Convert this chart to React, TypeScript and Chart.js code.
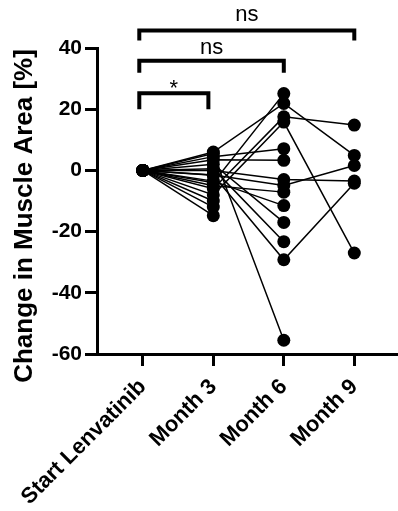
import React, { useEffect, useRef } from 'react';
import { Chart, registerables } from 'chart.js';

Chart.register(...registerables);

const timepointLabels = ['Start Lenvatinib', 'Month 3', 'Month 6', 'Month 9'];

// one entry per patient (null = no measurement at that time point)
const startValues = [0, 0, 0, 0, 0, 0, 0, 0, 0, 0, 0, 0, 0, 0, 0, 0, 0];
const month3Values = [5.5, 6, -4, -6, -8, 4.5, 3.5, 0, -1.5, -5, -3.5, 2, 0.5, -1.6, -10, -12, -14.8];
const month6Values = [-55.5, 21.9, 25.1, 17.5, 15.8, 7.1, 3.3, -3.0, -4.9, -7.1, -11.5, -17.0, -23.3, -29.2, null, null, null];
const month9Values = [null, 4.9, null, 14.8, -27, null, null, -3.5, 1.6, null, null, null, null, -4.2, null, null, null];

const yTickValues = [-60, -40, -20, 0, 20, 40];
const yAxisTitle = 'Change in Muscle Area [%]';

const comparisonFrom = [0, 0, 0];
const comparisonTo = [3, 2, 1];
const comparisonLabels = ['ns', 'ns', '*'];

const FONT = "'Liberation Sans', Arial, Helvetica, sans-serif";

const bracketPlugin = {
  id: 'brackets',
  afterDraw(chart: any) {
    const ctx = chart.ctx;
    const xs = chart.scales.x;
    const ys = chart.scales.y;
    const levels = [45.7, 35.8, 25.2];
    const drops = [10, 12, 16];
    const textGap = [10, 7, -2];
    ctx.save();
    ctx.strokeStyle = '#000';
    ctx.fillStyle = '#000';
    ctx.lineWidth = 4;
    ctx.lineCap = 'butt';
    ctx.lineJoin = 'miter';
    for (let i = 0; i < comparisonLabels.length; i++) {
      const x1 = xs.getPixelForValue(comparisonFrom[i] - 0.05);
      const x2 = xs.getPixelForValue(comparisonTo[i] - (comparisonTo[i] === 1 ? 0.07 : 0));
      const y = ys.getPixelForValue(levels[i]);
      ctx.beginPath();
      ctx.moveTo(x1, y + drops[i]);
      ctx.lineTo(x1, y);
      ctx.lineTo(x2, y);
      ctx.lineTo(x2, y + drops[i]);
      ctx.stroke();
      ctx.font = `22px ${FONT}`;
      ctx.textAlign = 'center';
      ctx.textBaseline = 'alphabetic';
      ctx.fillText(comparisonLabels[i], (x1 + x2) / 2, y - textGap[i]);
    }

    // y-axis title
    ctx.save();
    ctx.translate(25, 216);
    ctx.rotate(-Math.PI / 2);
    ctx.font = `bold 26px ${FONT}`;
    ctx.textAlign = 'center';
    ctx.textBaseline = 'middle';
    ctx.fillText(yAxisTitle, 0, 0);
    ctx.restore();

    ctx.restore();
  },
};

export default function App() {
  const canvasRef = useRef<HTMLCanvasElement | null>(null);

  useEffect(() => {
    document.body.style.margin = '0';
    const canvas = canvasRef.current;
    if (!canvas) return;

    const series = [startValues, month3Values, month6Values, month9Values];
    const datasets = startValues.map((_, p) => {
      const pts: { x: number; y: number }[] = [];
      series.forEach((arr, t) => {
        const v = arr[p];
        if (v !== null && v !== undefined) pts.push({ x: t, y: v });
      });
      return {
        label: `Patient ${p + 1}`,
        data: pts,
        borderColor: '#000',
        borderWidth: 1.5,
        backgroundColor: '#000',
        pointBackgroundColor: '#000',
        pointBorderWidth: 0,
        pointRadius: 6.5,
        pointHoverRadius: 6.5,
        tension: 0,
        fill: false,
      };
    });

    const chart = new Chart(canvas, {
      type: 'line',
      data: { datasets },
      plugins: [bracketPlugin],
      options: {
        responsive: false,
        animation: false,
        clip: false as any,
        layout: { autoPadding: false, padding: { top: 48, right: 0, left: 0, bottom: 0 } },
        plugins: {
          legend: { display: false },
          tooltip: { enabled: false },
        },
        scales: {
          x: {
            type: 'linear',
            min: -0.65,
            max: 3.62,
            afterBuildTicks: (scale: any) => {
              scale.ticks = timepointLabels.map((_, i) => ({ value: i }));
            },
            afterFit: (scale: any) => {
              scale.height = 157;
              scale.paddingLeft = 0;
              scale.paddingRight = 0;
            },
            border: { display: true, color: '#000', width: 3 },
            grid: {
              display: true,
              drawOnChartArea: false,
              drawTicks: true,
              tickLength: 12,
              tickWidth: 3,
              tickColor: '#000',
            },
            ticks: {
              autoSkip: false,
              maxRotation: 45,
              minRotation: 45,
              padding: 8,
              color: '#000',
              font: { family: FONT, size: 22, weight: 'bold' },
              callback: (v: any) => timepointLabels[Math.round(Number(v))] ?? '',
            },
          },
          y: {
            type: 'linear',
            min: -60,
            max: 40,
            afterBuildTicks: (scale: any) => {
              scale.ticks = yTickValues.map((v) => ({ value: v }));
            },
            afterFit: (scale: any) => {
              scale.width = 97;
            },
            border: { display: true, color: '#000', width: 3 },
            grid: {
              display: true,
              drawOnChartArea: false,
              drawTicks: true,
              tickLength: 12,
              tickWidth: 3,
              tickColor: '#000',
            },
            ticks: {
              padding: 3,
              color: '#000',
              font: { family: FONT, size: 21, weight: 'bold' },
            },
            title: { display: false, text: yAxisTitle },
          },
        },
      },
    } as any);

    return () => chart.destroy();
  }, []);

  return (
    <div style={{ position: 'absolute', left: 0, top: 0, width: 398, height: 511 }}>
      <canvas ref={canvasRef} width={398} height={511} style={{ width: 398, height: 511, display: 'block' }} />
    </div>
  );
}
